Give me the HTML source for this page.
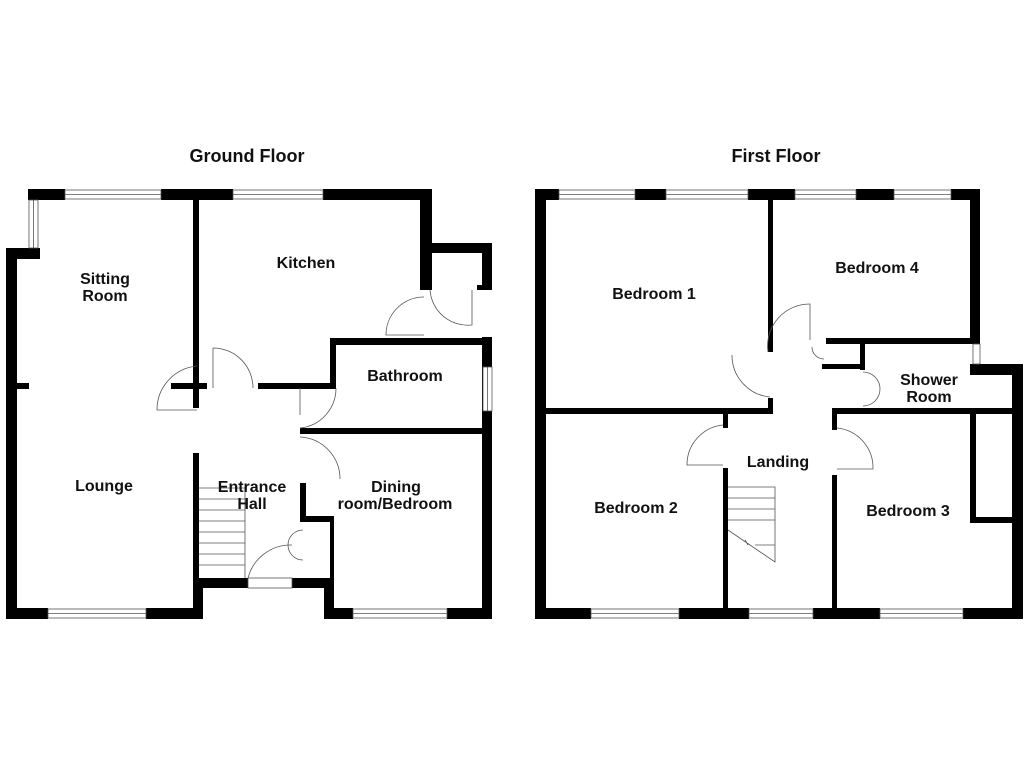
<!DOCTYPE html>
<html><head><meta charset="utf-8"><style>
html,body{margin:0;padding:0;background:#fff;width:1024px;height:768px;overflow:hidden}
text{font-family:"Liberation Sans",sans-serif;font-weight:bold;fill:#111;text-anchor:middle}
</style></head><body>
<svg width="1024" height="768" viewBox="0 0 1024 768" xmlns="http://www.w3.org/2000/svg">
<g font-size="18"><text x="247" y="162">Ground Floor</text><text x="776" y="162">First Floor</text></g>
<g fill="#000">
<rect x="28" y="189" width="37" height="11"/>
<rect x="161" y="189" width="72" height="11"/>
<rect x="323" y="189" width="109" height="11"/>
<rect x="6" y="248" width="34" height="11"/>
<rect x="6" y="248" width="11" height="371"/>
<rect x="6" y="608" width="42" height="11"/>
<rect x="146" y="608" width="57" height="11"/>
<rect x="193" y="578" width="10" height="41"/>
<rect x="193" y="578" width="55" height="10"/>
<rect x="292" y="578" width="42" height="10"/>
<rect x="324" y="578" width="10" height="41"/>
<rect x="324" y="608" width="29" height="11"/>
<rect x="447" y="608" width="45" height="11"/>
<rect x="482" y="337" width="10" height="282"/>
<rect x="420" y="189" width="12" height="101"/>
<rect x="420" y="243" width="72" height="10"/>
<rect x="482" y="243" width="10" height="47"/>
<rect x="477" y="285" width="6" height="5"/>
<rect x="330" y="338" width="162" height="7"/>
<rect x="330" y="338" width="6" height="51"/>
<rect x="258" y="383" width="78" height="6"/>
<rect x="171" y="383" width="36" height="6"/>
<rect x="193" y="200" width="6" height="208"/>
<rect x="17" y="383" width="12" height="6"/>
<rect x="193" y="453" width="6" height="125"/>
<rect x="300" y="428" width="187" height="6"/>
<rect x="300" y="483" width="6" height="39"/>
<rect x="300" y="516" width="34" height="6"/>
<rect x="330" y="516" width="4" height="62"/>
<rect x="535" y="189" width="24" height="11"/>
<rect x="635" y="189" width="31" height="11"/>
<rect x="748" y="189" width="47" height="11"/>
<rect x="856" y="189" width="38" height="11"/>
<rect x="951" y="189" width="29" height="11"/>
<rect x="535" y="189" width="11" height="430"/>
<rect x="535" y="608" width="56" height="11"/>
<rect x="679" y="608" width="70" height="11"/>
<rect x="813" y="608" width="67" height="11"/>
<rect x="963" y="608" width="60" height="11"/>
<rect x="970" y="189" width="10" height="149"/>
<rect x="826" y="338" width="154" height="6"/>
<rect x="970" y="364" width="53" height="11"/>
<rect x="1012" y="364" width="11" height="255"/>
<rect x="768" y="200" width="5" height="152"/>
<rect x="546" y="408" width="227" height="6"/>
<rect x="768" y="398" width="5" height="16"/>
<rect x="723" y="408" width="5" height="20"/>
<rect x="723" y="468" width="5" height="140"/>
<rect x="832" y="408" width="5" height="22"/>
<rect x="832" y="475" width="5" height="133"/>
<rect x="832" y="408" width="180" height="6"/>
<rect x="970" y="414" width="6" height="109"/>
<rect x="970" y="517" width="42" height="6"/>
<rect x="860" y="344" width="5" height="26"/>
<rect x="822" y="364" width="43" height="5"/>
</g>
<g fill="#fff" stroke="#555" stroke-width="0.8">
<rect x="65" y="190" width="96" height="9"/><line x1="65" y1="194.5" x2="161" y2="194.5"/>
<rect x="233" y="190" width="90" height="9"/><line x1="233" y1="194.5" x2="323" y2="194.5"/>
<rect x="29" y="200" width="9" height="48"/><line x1="33.5" y1="200" x2="33.5" y2="248"/>
<rect x="48" y="609" width="98" height="9"/><line x1="48" y1="613.5" x2="146" y2="613.5"/>
<rect x="353" y="609" width="94" height="9"/><line x1="353" y1="613.5" x2="447" y2="613.5"/>
<rect x="483" y="367" width="9" height="44"/><line x1="487.5" y1="367" x2="487.5" y2="411"/>
<rect x="248" y="578" width="44" height="10"/>
<rect x="559" y="190" width="76" height="9"/><line x1="559" y1="194.5" x2="635" y2="194.5"/>
<rect x="666" y="190" width="82" height="9"/><line x1="666" y1="194.5" x2="748" y2="194.5"/>
<rect x="795" y="190" width="61" height="9"/><line x1="795" y1="194.5" x2="856" y2="194.5"/>
<rect x="894" y="190" width="57" height="9"/><line x1="894" y1="194.5" x2="951" y2="194.5"/>
<rect x="591" y="609" width="88" height="9"/><line x1="591" y1="613.5" x2="679" y2="613.5"/>
<rect x="749" y="609" width="64" height="9"/><line x1="749" y1="613.5" x2="813" y2="613.5"/>
<rect x="880" y="609" width="83" height="9"/><line x1="880" y1="613.5" x2="963" y2="613.5"/>
<rect x="973" y="344" width="7" height="20"/>
</g>
<g fill="none" stroke="#555" stroke-width="0.8">
<path d="M213 348 L213 388 M213 348 A40 40 0 0 1 253 388"/>
<path d="M197 410 L157 410 A44 44 0 0 1 197 366"/>
<path d="M300 415 L300 388 M300 428 A40 40 0 0 0 336 388"/>
<path d="M300 437 A42 42 0 0 1 340 479"/>
<path d="M424 335 L386 335 A38 38 0 0 1 424 297"/>
<path d="M430 290 A38 38 0 0 0 472 325 L472 290"/>
<path d="M248 578 A44 44 0 0 1 292 545"/>
<path d="M303 530 A15 15 0 0 0 288 545 A15 15 0 0 0 303 560"/>
<path d="M768 352 A42 42 0 0 1 810 304 L810 340"/>
<path d="M732 355 A42 42 0 0 0 770 397"/>
<path d="M812 347 A12 12 0 0 0 824 359"/>
<path d="M863 372 A17 17 0 0 1 863 406"/>
<path d="M723 425 A40 40 0 0 0 687 465 L723 465"/>
<path d="M837 428 A40 40 0 0 1 873 469 L837 469"/>
<path d="M199 488 L245 488 L245 578 M199 499 L245 499 M199 510 L245 510 M199 521 L245 521 M199 532 L245 532 M199 543 L245 543 M199 554 L245 554 M199 565 L245 565"/>
<path d="M728 487 L775 487 L775 562 L728 530 M728 498 L775 498 M728 509 L775 509 M728 520 L775 520 M745 540 L748 545 M755 545 L775 545"/>
</g>
<g font-size="16">
<text x="105" y="284">Sitting</text><text x="105" y="301">Room</text>
<text x="306" y="268">Kitchen</text>
<text x="405" y="381">Bathroom</text>
<text x="104" y="491">Lounge</text>
<text x="252" y="492">Entrance</text><text x="252" y="509">Hall</text>
<text x="396" y="492">Dining</text><text x="395" y="509">room/Bedroom</text>
<text x="654" y="299">Bedroom 1</text>
<text x="877" y="273">Bedroom 4</text>
<text x="929" y="385">Shower</text><text x="929" y="402">Room</text>
<text x="778" y="467">Landing</text>
<text x="636" y="513">Bedroom 2</text>
<text x="908" y="516">Bedroom 3</text>
</g>
</svg>
</body></html>
